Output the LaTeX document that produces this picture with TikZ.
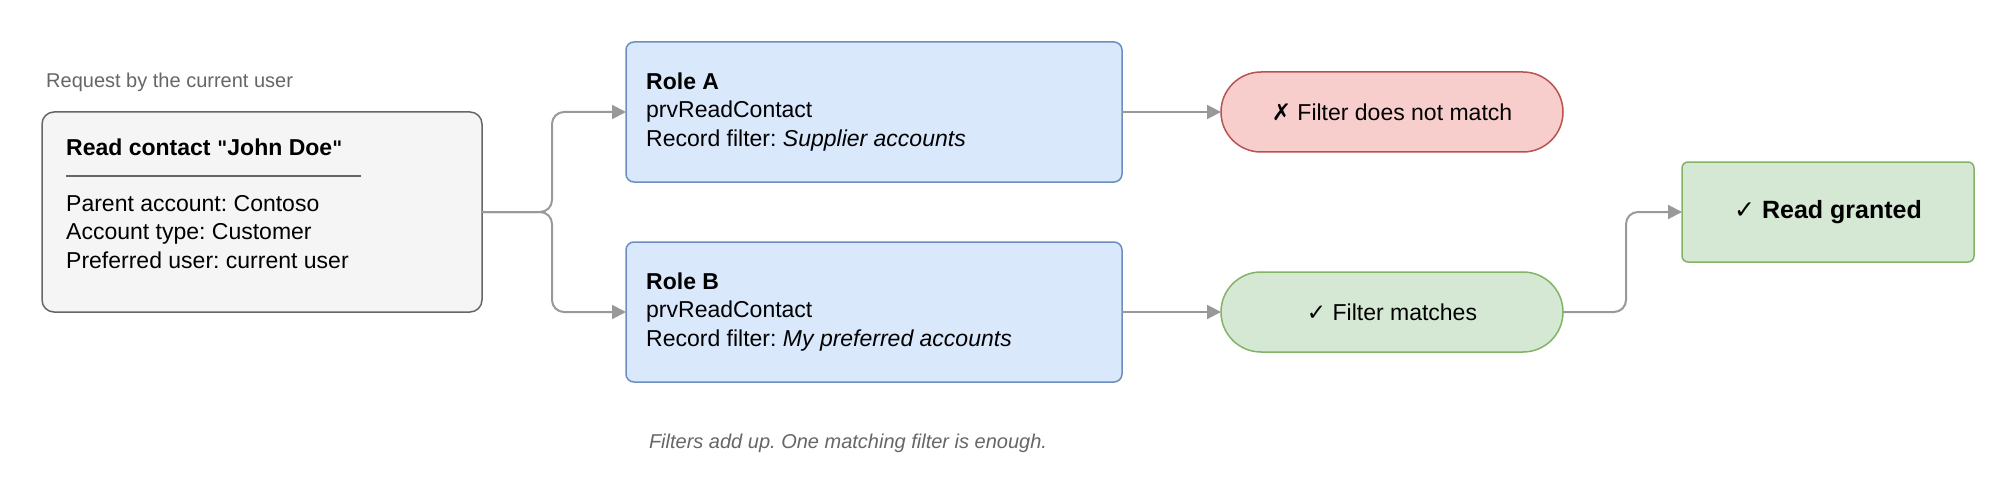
\documentclass[tikz,border=0pt]{standalone}
\usepackage{fontspec}
\setmainfont{Liberation Sans}[Ligatures=NoCommon]
\newfontfamily\symf{DejaVu Sans}
\definecolor{gfill}{HTML}{F5F5F5}\definecolor{gdraw}{HTML}{666666}
\definecolor{bfill}{HTML}{DAE8FC}\definecolor{bdraw}{HTML}{6C8EBF}
\definecolor{rfill}{HTML}{F8CECC}\definecolor{rdraw}{HTML}{B85450}
\definecolor{nfill}{HTML}{D5E8D4}\definecolor{ndraw}{HTML}{82B366}
\definecolor{arr}{HTML}{999999}\definecolor{note}{HTML}{666666}
\usetikzlibrary{arrows.meta}
\frenchspacing
\newcommand\dq{{\symf\fontsize{20}{23}\selectfont\bfseries\char"22}}
\begin{document}
\begin{tikzpicture}[x=1pt,y=-1pt,
  box/.style={draw,line width=1.5pt,inner sep=0,outer sep=0},
  txt/.style={inner sep=0,anchor=west,align=left,font=\fontsize{23}{28.5}\selectfont},
  conn/.style={draw=arr,line width=2pt,rounded corners=12pt,-{Triangle[length=14pt,width=14pt]}}]
\path[fill=white] (0,0) rectangle (2005,484);
\node[inner sep=0,anchor=west,text=note,font=\fontsize{20}{23}\selectfont] (cap) at (46,82) {Request by the current user};
\node[box,fill=gfill,draw=gdraw,rounded corners=12pt,minimum width=440pt,minimum height=200pt] (req) at (262,212) {};
\node[txt,font=\bfseries\fontsize{23}{28}\selectfont] (rt) at (66,147) {Read contact \dq John Doe\dq};
\draw[gdraw,line width=2pt] (66,176) -- (361,176);
\node[txt] (rb) at (66,232) {Parent account: Contoso\\Account type: Customer\\Preferred user: current user};
\node[box,fill=bfill,draw=bdraw,rounded corners=8pt,minimum width=496pt,minimum height=140pt] (ra) at (874,112) {};
\node[txt] (rat) at (646,112) {\textbf{Role A}\\prvReadContact\\Record filter: \textit{Supplier accounts}};
\node[box,fill=bfill,draw=bdraw,rounded corners=8pt,minimum width=496pt,minimum height=140pt] (rb2) at (874,312) {};
\node[txt] (rbt) at (646,312) {\textbf{Role B}\\prvReadContact\\Record filter: \textit{My preferred accounts}};
\node[box,fill=rfill,draw=rdraw,rounded corners=40pt,minimum width=342pt,minimum height=80pt,font=\fontsize{23}{28}\selectfont] (rp) at (1392,112) {{\symf ✗} Filter does not match};
\node[box,fill=nfill,draw=ndraw,rounded corners=40pt,minimum width=342pt,minimum height=80pt,font=\fontsize{23}{28}\selectfont] (gp) at (1392,312) {{\symf ✓} Filter matches};
\node[box,fill=nfill,draw=ndraw,rounded corners=6pt,minimum width=292pt,minimum height=100pt,font=\bfseries\fontsize{25}{28}\selectfont] (rg) at (1828,212) {{\symf ✓} Read granted};
\node[inner sep=0,text=note,font=\itshape\fontsize{20}{23}\selectfont] (foot) at (848,443) {Filters add up. One matching filter is enough.};
\coordinate (j) at (552,212);
\coordinate (k) at (1626,312);
\draw[conn] (req.east) -- (j) |- (ra.west);
\draw[conn] (req.east) -- (j) |- (rb2.west);
\draw[conn] (ra.east) -- (rp.west);
\draw[conn] (rb2.east) -- (gp.west);
\draw[conn] (gp.east) -- (k) |- (rg.west);
\end{tikzpicture}
\end{document}
